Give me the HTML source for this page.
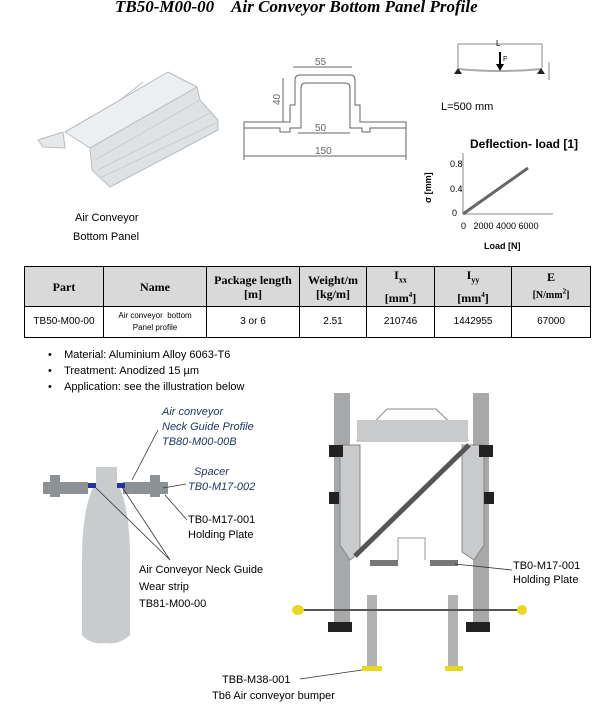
<!DOCTYPE html>
<html><head><meta charset="utf-8"><style>
body{margin:0;width:612px;height:711px;background:#fff;position:relative;overflow:hidden;font-family:"Liberation Sans",sans-serif;color:#000}
.t{position:absolute;white-space:nowrap}
.s{font-size:11px}
.i{font-style:italic;color:#1f3864}
table{position:absolute;left:24px;top:266px;width:566px;border-collapse:collapse;table-layout:fixed}
td,th{border:1px solid #000;text-align:center;padding:0;font-size:10px}
th{background:#d9d9d9;font-family:"Liberation Serif",serif;font-size:12px;font-weight:bold;height:39px;line-height:14px}
td{height:30px;line-height:12px}
</style></head><body>
<div class="t" style="left:115px;top:-3px;font-family:'Liberation Serif',serif;font-style:italic;font-weight:bold;font-size:17px">TB50-M00-00 &nbsp;&nbsp;&nbsp;Air Conveyor Bottom Panel Profile</div>

<svg width="612" height="711" style="position:absolute;left:0;top:0">
<!-- 3D profile -->
<g stroke="#b8bcc0" stroke-width="1" stroke-linejoin="round">
<polygon points="38,140 63,132 65,148 43,147" fill="#e6e8ea"/>
<polygon points="65,132 168,72 197,87 90,148" fill="#eceef0"/>
<polygon points="90,148 197,87 200,100 218,120 218,130 110,187 92,170" fill="#dfe2e5"/>
<polyline points="65,132 120,100 143,82" fill="none"/>
<line x1="95" y1="160" x2="200" y2="100" stroke="#c8ccd0"/>
<line x1="98" y1="170" x2="212" y2="112" stroke="#c8ccd0"/>
<line x1="100" y1="178" x2="218" y2="122" stroke="#c8ccd0"/>
</g>
<!-- cross-section -->
<g fill="none" stroke="#666" stroke-width="1">
<path d="M244,122 L290,122 L290,105 L295,105 L295,80 Q295,75 300,75 L350,75 Q355,75 355,80 L355,105 L360,105 L360,122 L406,122 L406,128 L370,128 L370,132 L362,132 L362,128 L350,128 L350,88 Q350,83 345,83 L306,83 Q301,83 301,88 L301,128 L290,128 L290,132 L280,132 L280,128 L244,128 Z"/>
<line x1="293" y1="67" x2="352" y2="67"/><line x1="283" y1="78" x2="283" y2="122"/>
<line x1="298" y1="133" x2="350" y2="133"/><line x1="244" y1="156" x2="406" y2="156"/>
<line x1="244" y1="128" x2="244" y2="160"/><line x1="406" y1="128" x2="406" y2="160"/>
</g>
<g font-size="10" fill="#666" font-family="Liberation Sans"><text x="315" y="65">55</text><text x="315" y="131">50</text><text x="315" y="154">150</text><text x="280" y="105" transform="rotate(-90 280 105)">40</text></g>
<!-- beam -->
<g stroke="#888" fill="none"><line x1="458" y1="44" x2="542" y2="44"/><line x1="458" y1="44" x2="458" y2="68"/><line x1="542" y1="44" x2="542" y2="68"/>
<path d="M458,69 Q500,73 542,69" stroke="#aaa" stroke-width="2"/><line x1="549" y1="62" x2="549" y2="80"/></g>
<polygon points="454,74 462,74 458,68" fill="#222"/><polygon points="537,74 545,74 541,68" fill="#222"/>
<line x1="500" y1="52" x2="500" y2="66" stroke="#000" stroke-width="2"/><polygon points="496,64 504,64 500,71" fill="#000"/>
<text x="496" y="46" font-size="8">L</text><text x="503" y="61" font-size="7">F</text>
<!-- chart -->
<g stroke="#888" fill="none"><line x1="463" y1="153" x2="463" y2="214"/><line x1="463" y1="214" x2="553" y2="214"/></g>
<line x1="463" y1="214" x2="528" y2="168" stroke="#666" stroke-width="3"/>
<!-- bottle -->
<path d="M96,467 L117,467 L117,482 Q130,505 130,560 L130,635 Q120,645 106,643 Q90,645 82,635 L82,560 Q82,505 96,482 Z" fill="#c9ccce"/>
<g fill="#8d9296"><rect x="43" y="482" width="45" height="12"/><rect x="123" y="482" width="45" height="12"/><rect x="50" y="475" width="10" height="22"/><rect x="150" y="475" width="10" height="22"/></g>
<rect x="88" y="483" width="8" height="5" fill="#2233aa"/><rect x="117" y="483" width="8" height="5" fill="#2233aa"/>
<g stroke="#333" fill="none" stroke-width="0.8"><line x1="158" y1="430" x2="132" y2="480"/><line x1="186" y1="484" x2="163" y2="488"/><line x1="187" y1="520" x2="165" y2="495"/><line x1="170" y1="560" x2="95" y2="487"/><line x1="170" y1="560" x2="122" y2="487"/></g>
<!-- machine -->
<g fill="#a6a8aa"><rect x="334" y="393" width="16" height="232"/><rect x="473" y="393" width="16" height="232"/></g>
<path d="M387,409 L436,409 L468,440 L357,440 Z" fill="none" stroke="#888"/>
<polygon points="357,420 468,420 468,442 357,442" fill="#c8cacc"/>
<polygon points="340,445 360,445 360,552 350,560 340,545" fill="#c8cacc" stroke="#888"/>
<polygon points="462,445 484,445 484,545 474,560 462,552" fill="#c8cacc" stroke="#888"/>
<line x1="355" y1="556" x2="469" y2="445" stroke="#555" stroke-width="5"/>
<g fill="#222"><rect x="329" y="445" width="14" height="12"/><rect x="479" y="445" width="14" height="12"/><rect x="329" y="492" width="10" height="12"/><rect x="484" y="492" width="10" height="12"/><rect x="328" y="622" width="24" height="10"/><rect x="466" y="622" width="24" height="10"/></g>
<path d="M398,560 L398,538 L425,538 L425,560" fill="none" stroke="#999"/>
<g fill="#777"><rect x="370" y="560" width="28" height="6"/><rect x="430" y="560" width="28" height="6"/></g>
<g fill="#b0b2b4"><rect x="367" y="595" width="10" height="72"/><rect x="448" y="595" width="10" height="72"/></g>
<line x1="300" y1="610" x2="522" y2="610" stroke="#555" stroke-width="2"/>
<g fill="#e8d820"><ellipse cx="298" cy="610" rx="6" ry="5"/><ellipse cx="522" cy="610" rx="5" ry="5"/><rect x="362" y="666" width="20" height="5"/><rect x="445" y="666" width="18" height="5"/></g>
<g stroke="#333" stroke-width="0.8"><line x1="300" y1="679" x2="362" y2="670"/><line x1="455" y1="564" x2="512" y2="570"/></g>
</svg>

<div class="t s" style="left:441px;top:101px">L=500 mm</div>
<div class="t" style="left:470px;top:137px;font-size:12px;font-weight:bold">Deflection- load [1]</div>
<div class="t" style="left:450px;top:159px;font-size:9px">0.8</div>
<div class="t" style="left:450px;top:184px;font-size:9px">0.4</div>
<div class="t" style="left:452px;top:208px;font-size:9px">0</div>
<div class="t" style="left:461px;top:221px;font-size:9px">0 &nbsp;&nbsp;2000 4000 6000</div>
<div class="t" style="left:484px;top:241px;font-size:9px;font-weight:bold">Load [N]</div>
<div class="t" style="left:423px;top:203px;font-size:9px;font-weight:bold;transform:rotate(-90deg);transform-origin:left top">σ [mm]</div>
<div class="t s" style="left:75px;top:212px">Air Conveyor</div>
<div class="t s" style="left:73px;top:231px">Bottom Panel</div>

<table><colgroup><col style="width:79px"><col style="width:103px"><col style="width:93px"><col style="width:67px"><col style="width:68px"><col style="width:77px"><col style="width:79px"></colgroup>
<tr><th>Part</th><th>Name</th><th>Package length<br>[m]</th><th>Weight/m<br>[kg/m]</th><th>I<sub style="font-size:8px">xx</sub><br>[mm<sup style="font-size:7px">4</sup>]</th><th>I<sub style="font-size:8px">yy</sub><br>[mm<sup style="font-size:7px">4</sup>]</th><th>E<br><span style="font-size:10px">[N/mm<sup style="font-size:7px">2</sup>]</span></th></tr>
<tr><td>TB50-M00-00</td><td style="font-size:8px">Air conveyor &nbsp;bottom<br>Panel profile</td><td>3 or 6</td><td>2.51</td><td>210746</td><td>1442955</td><td>67000</td></tr></table>

<div class="t s" style="left:48px;top:349px">•&nbsp;&nbsp;&nbsp;&nbsp;Material: Aluminium Alloy 6063-T6</div>
<div class="t s" style="left:48px;top:365px">•&nbsp;&nbsp;&nbsp;&nbsp;Treatment: Anodized 15 µm</div>
<div class="t s" style="left:48px;top:381px">•&nbsp;&nbsp;&nbsp;&nbsp;Application: see the illustration below</div>

<div class="t s i" style="left:162px;top:405px;line-height:15px">Air conveyor<br>Neck Guide Profile<br>TB80-M00-00B</div>
<div class="t s i" style="left:194px;top:465px;line-height:15px">Spacer<br><span style="margin-left:-6px">TB0-M17-002</span></div>
<div class="t s" style="left:188px;top:513px;line-height:15px">TB0-M17-001<br>Holding Plate</div>
<div class="t s" style="left:139px;top:562px;line-height:17px">Air Conveyor Neck Guide<br>Wear strip<br>TB81-M00-00</div>
<div class="t s" style="left:513px;top:559px;line-height:14px">TB0-M17-001<br>Holding Plate</div>
<div class="t s" style="left:222px;top:672px;line-height:16px">TBB-M38-001<br><span style="margin-left:-10px">Tb6 Air conveyor bumper</span></div>
</body></html>
